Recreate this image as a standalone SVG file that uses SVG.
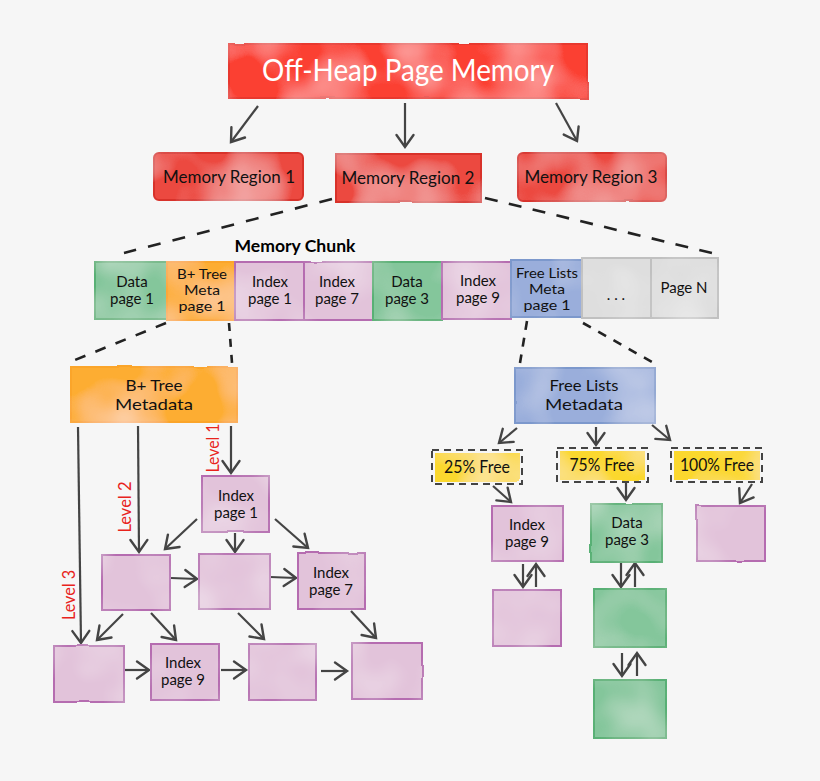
<svg xmlns="http://www.w3.org/2000/svg" width="820" height="781" viewBox="0 0 820 781">
<style>
text{font-family:"Lato","Liberation Sans",sans-serif;font-size:15px;fill:#111;text-anchor:middle}
.t{font-size:30px;fill:#fff}.r{font-size:18px}.m{font-size:16px}.s{font-size:13.5px}.lv{font-size:17px;fill:#e8231c}.ch{font-size:17px;font-weight:700;fill:#000}.f{font-size:17.5px}
.red{fill:#fb3f30;stroke:#e8372e;stroke-width:2}.reg{fill:#ec4a3f;stroke:#d8302b;stroke-width:2}
.pink{fill:#e2c3da;stroke:#b56cb0;stroke-width:2}.green{fill:#84c69b;stroke:#58b074;stroke-width:2}
.orange{fill:#fdad33;stroke:#fba52a;stroke-width:2}.blue{fill:#9aaedb;stroke:#7b98cc;stroke-width:2}
.gray{fill:#dedede;stroke:#c0c0c0;stroke-width:2}.yel{fill:#fbd82f}
.dash{fill:none;stroke:#444;stroke-width:2;stroke-dasharray:7 5}
.ln{fill:none;stroke:#222;stroke-width:2.6}
.ar{fill:none;stroke:#444;stroke-width:2.2;marker-end:url(#a)}
</style>
<defs>
<marker id="a" markerUnits="userSpaceOnUse" markerWidth="24" markerHeight="24" refX="17" refY="12" orient="auto"><path d="M5 3.5L17 12L5 20.5" fill="none" stroke="#444" stroke-width="2.4" stroke-linecap="round"/></marker>
<filter id="w" x="-5%" y="-5%" width="110%" height="110%"><feTurbulence type="fractalNoise" baseFrequency="0.018" numOctaves="2" seed="4" result="n"/><feDisplacementMap in="SourceGraphic" in2="n" scale="2" result="d0"/><feGaussianBlur in="d0" stdDeviation="0.4" result="d"/><feColorMatrix in="n" type="matrix" values="0 0 0 0 1 0 0 0 0 1 0 0 0 0 1 0.7 0 0 0 -0.28" result="m"/><feComposite in="m" in2="d" operator="in" result="wm"/><feMerge><feMergeNode in="d"/><feMergeNode in="wm"/></feMerge></filter>
</defs>
<rect width="820" height="781" fill="#f6f6f6"/>
<g id="connectors">
<path class="ar" d="M258 106L231 142"/><path class="ar" d="M405 103L405 147"/><path class="ar" d="M556 103L577 141"/>
<path class="ln" stroke-dasharray="13 12.3" d="M332 199L124 253"/><path class="ln" stroke-dasharray="13 11.5" d="M485 198L712 253"/>
<path class="ln" stroke-dasharray="11 10.75" d="M166 323L75 360"/><path class="ln" stroke-dasharray="8 8" d="M229 323L232 363"/>
<path class="ln" stroke-dasharray="9 8" d="M527 321L520 363"/><path class="ln" stroke-dasharray="9 8.5" d="M583 323L652 362"/>
<path class="ar" d="M78 427L81 643"/><path class="ar" d="M138 426L139 552"/><path class="ar" d="M231 426L231 473"/>
<path class="ar" d="M197 519L165 549"/><path class="ar" d="M235 533L235 552"/><path class="ar" d="M275 519L308 548"/>
<path class="ar" d="M171 578L197 579"/><path class="ar" d="M270 577L296 578"/>
<path class="ar" d="M123 614L97 640"/><path class="ar" d="M151 613L176 640"/><path class="ar" d="M238 613L264 639"/><path class="ar" d="M351 611L376 638"/>
<path class="ar" d="M125 670L149 670"/><path class="ar" d="M221 670L246 670"/><path class="ar" d="M321 671L347 671"/>
<path class="ar" d="M517 428L499 443"/><path class="ar" d="M596 427L596 445"/><path class="ar" d="M652 425L670 440"/>
<path class="ar" d="M493 486L511 502"/><path class="ar" d="M626 483L626 500"/><path class="ar" d="M752 484L740 503"/>
<path class="ar" d="M523 564L523 587"/><path class="ar" d="M536 587L536 564"/>
<path class="ar" d="M621 563L621 587"/><path class="ar" d="M635 587L635 563"/>
<path class="ar" d="M622 653L622 676"/><path class="ar" d="M637 676L637 653"/>
</g>
<g id="off-heap"><rect class="red" x="229" y="44" width="358" height="54" filter="url(#w)"/><text class="t" x="408" y="81" textLength="292" lengthAdjust="spacingAndGlyphs">Off-Heap Page Memory</text></g>
<g id="region1"><rect class="reg" x="154" y="153" width="149" height="47" rx="5" filter="url(#w)"/><text class="r" x="229" y="183" textLength="132" lengthAdjust="spacingAndGlyphs">Memory Region 1</text></g>
<g id="region2"><rect class="reg" x="336" y="154" width="145" height="48" filter="url(#w)"/><text class="r" x="408" y="184" textLength="133" lengthAdjust="spacingAndGlyphs">Memory Region 2</text></g>
<g id="region3"><rect class="reg" x="518" y="153" width="148" height="48" rx="5" filter="url(#w)"/><text class="r" x="591" y="183" textLength="133" lengthAdjust="spacingAndGlyphs">Memory Region 3</text></g>
<text class="ch" x="295" y="252" textLength="121" lengthAdjust="spacingAndGlyphs">Memory Chunk</text>
<g id="chunk-data1"><rect class="green" x="95" y="262" width="72" height="57" filter="url(#w)"/><text x="132" y="287">Data</text><text x="132" y="304">page 1</text></g>
<g id="chunk-btree"><rect class="orange" x="167" y="262" width="68" height="58" filter="url(#w)"/><text class="s" x="202" y="279" textLength="50" lengthAdjust="spacingAndGlyphs">B+ Tree</text><text class="s" x="202" y="295" textLength="36" lengthAdjust="spacingAndGlyphs">Meta</text><text class="s" x="202" y="311" textLength="47" lengthAdjust="spacingAndGlyphs">page 1</text></g>
<g id="chunk-index1"><rect class="pink" x="235" y="262" width="69" height="58" filter="url(#w)"/><text x="270" y="287">Index</text><text x="270" y="304">page 1</text></g>
<g id="chunk-index7"><rect class="pink" x="304" y="262" width="69" height="58" filter="url(#w)"/><text x="337" y="287">Index</text><text x="337" y="304">page 7</text></g>
<g id="chunk-data3"><rect class="green" x="373" y="262" width="69" height="58" filter="url(#w)"/><text x="407" y="287">Data</text><text x="407" y="304">page 3</text></g>
<g id="chunk-index9"><rect class="pink" x="442" y="262" width="69" height="57" filter="url(#w)"/><text x="478" y="286">Index</text><text x="478" y="303">page 9</text></g>
<g id="chunk-free"><rect class="blue" x="511" y="260" width="71" height="57" filter="url(#w)"/><text class="s" x="547" y="278" textLength="62" lengthAdjust="spacingAndGlyphs">Free Lists</text><text class="s" x="547" y="294" textLength="36" lengthAdjust="spacingAndGlyphs">Meta</text><text class="s" x="547" y="310" textLength="47" lengthAdjust="spacingAndGlyphs">page 1</text></g>
<g id="chunk-dots"><rect class="gray" x="582" y="258" width="69" height="60" filter="url(#w)"/><text x="616" y="300">. . .</text></g>
<g id="chunk-pagen"><rect class="gray" x="651" y="258" width="67" height="60" filter="url(#w)"/><text x="684" y="293">Page N</text></g>
<g id="btree-meta"><rect class="orange" x="71" y="367" width="166" height="55" filter="url(#w)"/><text class="m" x="154" y="391" textLength="57" lengthAdjust="spacingAndGlyphs">B+ Tree</text><text class="m" x="154" y="410" textLength="78" lengthAdjust="spacingAndGlyphs">Metadata</text></g>
<g id="free-meta"><rect class="blue" x="515" y="368" width="140" height="55" filter="url(#w)"/><text class="m" x="584" y="391" textLength="69" lengthAdjust="spacingAndGlyphs">Free Lists</text><text class="m" x="584" y="410" textLength="78" lengthAdjust="spacingAndGlyphs">Metadata</text></g>
<g id="labels"><text class="lv" transform="translate(219 448) rotate(-90)" textLength="49" lengthAdjust="spacingAndGlyphs">Level 1</text><text class="lv" transform="translate(131 507) rotate(-90)" textLength="51" lengthAdjust="spacingAndGlyphs">Level 2</text><text class="lv" transform="translate(75 595) rotate(-90)" textLength="50" lengthAdjust="spacingAndGlyphs">Level 3</text></g>
<g id="t-index1"><rect class="pink" x="202" y="476" width="67" height="56" filter="url(#w)"/><text x="236" y="501">Index</text><text x="236" y="518">page 1</text></g>
<g id="t-a"><rect class="pink" x="102" y="555" width="68" height="55" filter="url(#w)"/></g>
<g id="t-b"><rect class="pink" x="199" y="554" width="71" height="55" filter="url(#w)"/></g>
<g id="t-index7"><rect class="pink" x="298" y="553" width="67" height="56" filter="url(#w)"/><text x="331" y="578">Index</text><text x="331" y="595">page 7</text></g>
<g id="t-c"><rect class="pink" x="54" y="646" width="70" height="56" filter="url(#w)"/></g>
<g id="t-index9"><rect class="pink" x="151" y="644" width="68" height="56" filter="url(#w)"/><text x="183" y="668">Index</text><text x="183" y="685">page 9</text></g>
<g id="t-d"><rect class="pink" x="249" y="644" width="67" height="56" filter="url(#w)"/></g>
<g id="t-e"><rect class="pink" x="352" y="643" width="70" height="56" filter="url(#w)"/></g>
<g id="free25"><rect class="yel" x="435" y="453" width="85" height="29" filter="url(#w)"/><rect class="dash" x="432" y="450" width="90" height="34"/><text class="f" x="477" y="473" textLength="66" lengthAdjust="spacingAndGlyphs">25% Free</text></g>
<g id="free75"><rect class="yel" x="560" y="451" width="85" height="29" filter="url(#w)"/><rect class="dash" x="557" y="448" width="91" height="34"/><text class="f" x="602" y="471" textLength="65" lengthAdjust="spacingAndGlyphs">75% Free</text></g>
<g id="free100"><rect class="yel" x="674" y="451" width="86" height="29" filter="url(#w)"/><rect class="dash" x="671" y="448" width="91" height="34"/><text class="f" x="717" y="471" textLength="74" lengthAdjust="spacingAndGlyphs">100% Free</text></g>
<g id="f-index9"><rect class="pink" x="492" y="506" width="71" height="55" filter="url(#w)"/><text x="527" y="530">Index</text><text x="527" y="547">page 9</text></g>
<g id="f-data3"><rect class="green" x="591" y="504" width="71" height="58" filter="url(#w)"/><text x="627" y="528">Data</text><text x="627" y="545">page 3</text></g>
<g id="f-pink"><rect class="pink" x="697" y="506" width="68" height="55" filter="url(#w)"/></g>
<g id="f-pink2"><rect class="pink" x="493" y="590" width="68" height="56" filter="url(#w)"/></g>
<g id="f-green2"><rect class="green" x="594" y="589" width="72" height="58" filter="url(#w)"/></g>
<g id="f-green3"><rect class="green" x="594" y="680" width="72" height="58" filter="url(#w)"/></g>
</svg>
